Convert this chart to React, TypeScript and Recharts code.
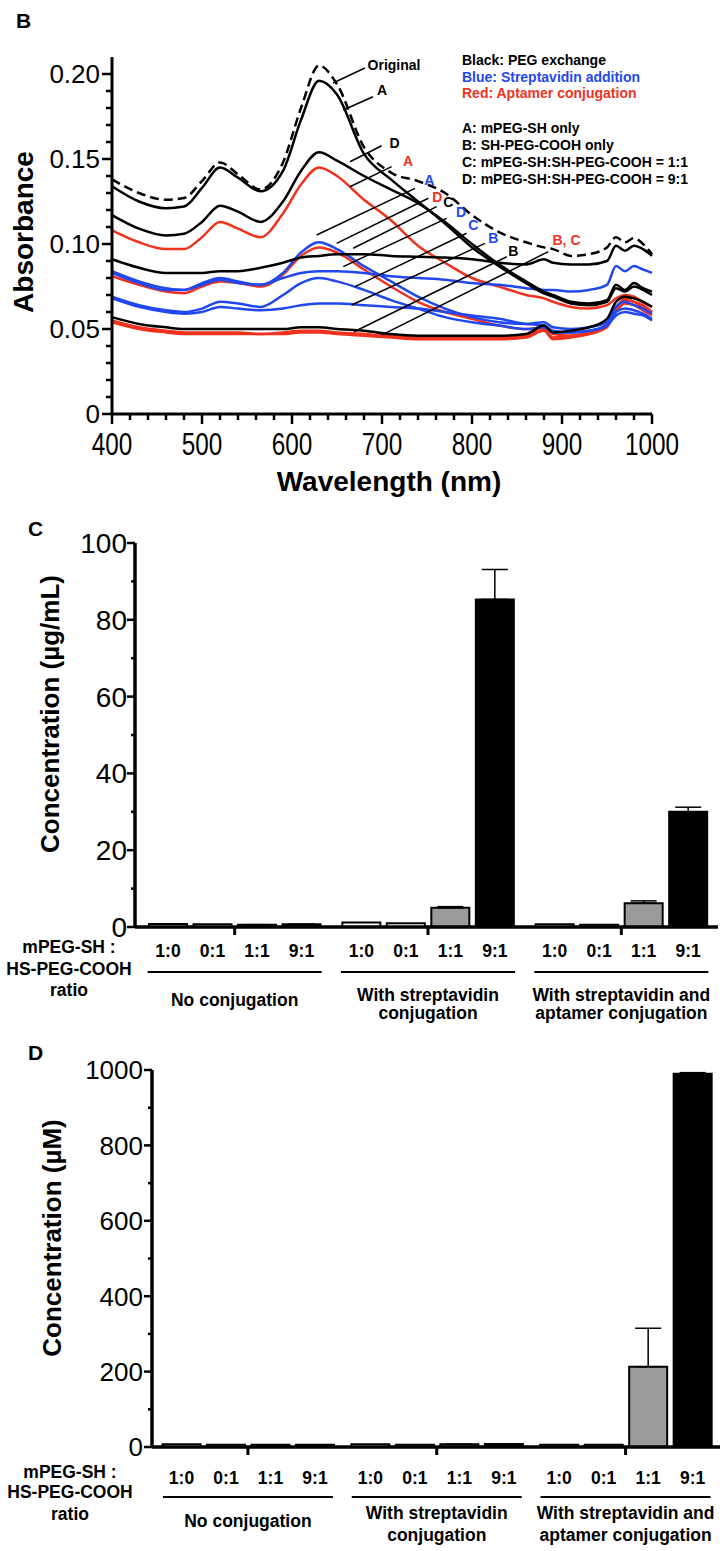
import React from 'react';
import {
  LineChart, Line, XAxis, YAxis, ReferenceLine, ReferenceDot,
  BarChart, Bar, ErrorBar, LabelList,
} from 'recharts';

const FONT = '"Liberation Sans", Arial, Helvetica, sans-serif';
const BLACK = '#000000';
const BLUE = '#2148ee';
const RED = '#f0321f';

// ---------- Panel B: absorbance spectra ----------
const wavelengths = [400, 430, 460, 480, 500, 520, 540, 565, 590, 610, 630, 650, 680, 710, 740, 770, 800, 830, 860, 880, 890, 910, 930, 950, 960, 970, 980, 990, 1000];

const absOriginal = [0.138, 0.130, 0.126, 0.127, 0.137, 0.148, 0.141, 0.132, 0.148, 0.180, 0.205, 0.194, 0.157, 0.142, 0.137, 0.130, 0.117, 0.107, 0.101, 0.098, 0.097, 0.093, 0.094, 0.098, 0.104, 0.101, 0.1035, 0.100, 0.094];
const absBlackA = [0.134, 0.125, 0.121, 0.122, 0.133, 0.145, 0.139, 0.131, 0.143, 0.173, 0.196, 0.188, 0.153, 0.138, 0.125, 0.112, 0.098, 0.087, 0.077, 0.071, 0.069, 0.065, 0.064, 0.066, 0.074, 0.072, 0.075, 0.073, 0.070];
const absBlackD = [0.117, 0.109, 0.105, 0.106, 0.113, 0.1225, 0.119, 0.113, 0.125, 0.143, 0.154, 0.149, 0.140, 0.132, 0.124, 0.113, 0.100, 0.088, 0.078, 0.072, 0.070, 0.066, 0.065, 0.067, 0.076, 0.073, 0.077, 0.074, 0.072];
const absBlackC = [0.091, 0.086, 0.083, 0.083, 0.083, 0.084, 0.084, 0.086, 0.089, 0.092, 0.093, 0.094, 0.094, 0.093, 0.0925, 0.092, 0.091, 0.089, 0.088, 0.091, 0.089, 0.088, 0.088, 0.090, 0.099, 0.096, 0.099, 0.097, 0.093];
const absBlackB = [0.057, 0.053, 0.051, 0.050, 0.050, 0.050, 0.050, 0.050, 0.050, 0.051, 0.051, 0.050, 0.049, 0.047, 0.046, 0.046, 0.046, 0.046, 0.047, 0.052, 0.048, 0.049, 0.051, 0.056, 0.066, 0.069, 0.068, 0.066, 0.063];
const absBlueA = [0.083, 0.077, 0.073, 0.073, 0.077, 0.080, 0.078, 0.076, 0.083, 0.095, 0.101, 0.097, 0.087, 0.078, 0.069, 0.062, 0.057, 0.054, 0.053, 0.054, 0.051, 0.050, 0.051, 0.054, 0.063, 0.066, 0.064, 0.062, 0.059];
const absBlueD = [0.084, 0.078, 0.074, 0.073, 0.076, 0.079, 0.077, 0.076, 0.080, 0.083, 0.084, 0.084, 0.083, 0.081, 0.080, 0.079, 0.077, 0.076, 0.074, 0.073, 0.073, 0.072, 0.073, 0.076, 0.087, 0.084, 0.087, 0.085, 0.083];
const absBlueC = [0.069, 0.064, 0.061, 0.060, 0.062, 0.066, 0.065, 0.063, 0.070, 0.077, 0.080, 0.078, 0.073, 0.067, 0.062, 0.057, 0.054, 0.052, 0.050, 0.051, 0.048, 0.048, 0.049, 0.052, 0.060, 0.062, 0.061, 0.059, 0.056];
const absBlueB = [0.068, 0.063, 0.060, 0.059, 0.060, 0.063, 0.062, 0.061, 0.062, 0.064, 0.065, 0.065, 0.064, 0.063, 0.062, 0.060, 0.058, 0.056, 0.053, 0.052, 0.049, 0.048, 0.049, 0.052, 0.058, 0.060, 0.059, 0.058, 0.055];
const absRedA = [0.108, 0.101, 0.097, 0.097, 0.104, 0.113, 0.109, 0.104, 0.118, 0.135, 0.145, 0.140, 0.126, 0.114, 0.099, 0.089, 0.080, 0.075, 0.070, 0.068, 0.066, 0.063, 0.062, 0.064, 0.068, 0.070, 0.069, 0.066, 0.063];
const absRedD = [0.081, 0.076, 0.072, 0.071, 0.075, 0.078, 0.077, 0.075, 0.082, 0.093, 0.098, 0.095, 0.085, 0.075, 0.066, 0.060, 0.056, 0.052, 0.050, 0.051, 0.047, 0.046, 0.047, 0.051, 0.062, 0.068, 0.066, 0.064, 0.060];
const absRedB = [0.055, 0.051, 0.049, 0.048, 0.048, 0.048, 0.048, 0.047, 0.048, 0.049, 0.049, 0.048, 0.047, 0.046, 0.045, 0.045, 0.045, 0.045, 0.046, 0.050, 0.045, 0.046, 0.048, 0.053, 0.062, 0.067, 0.066, 0.063, 0.060];
const absRedC = [0.054, 0.050, 0.048, 0.047, 0.047, 0.047, 0.047, 0.047, 0.047, 0.048, 0.048, 0.047, 0.046, 0.045, 0.044, 0.044, 0.044, 0.044, 0.045, 0.049, 0.044, 0.045, 0.047, 0.052, 0.060, 0.065, 0.064, 0.061, 0.058];

const spectra = [
  { key: 'redC', color: RED, values: absRedC },
  { key: 'redB', color: RED, values: absRedB },
  { key: 'redD', color: RED, values: absRedD },
  { key: 'redA', color: RED, values: absRedA },
  { key: 'blueB', color: BLUE, values: absBlueB },
  { key: 'blueC', color: BLUE, values: absBlueC },
  { key: 'blueD', color: BLUE, values: absBlueD },
  { key: 'blueA', color: BLUE, values: absBlueA },
  { key: 'blackB', color: BLACK, values: absBlackB },
  { key: 'blackC', color: BLACK, values: absBlackC },
  { key: 'blackD', color: BLACK, values: absBlackD },
  { key: 'blackA', color: BLACK, values: absBlackA },
  { key: 'original', color: BLACK, values: absOriginal, dashed: true },
];

const spectraData = wavelengths.map((w, i) => {
  const row: Record<string, number> = { w };
  spectra.forEach((s) => { row[s.key] = s.values[i]; });
  return row;
});

const waveTicks: number[] = [];
for (let w = 400; w <= 1000; w += 20) waveTicks.push(w);
const absTicks: number[] = [];
for (let i = 0; i <= 20; i++) absTicks.push(i / 100);

// curve labels: [text, wavelength, absorbance, colour]
const curveLabels: [string, number, number, string][] = [
  ['Original', 684, 0.2055, BLACK],
  ['A', 700, 0.1905, BLACK],
  ['D', 714, 0.1596, BLACK],
  ['A', 729, 0.1488, RED],
  ['A', 752.6, 0.1376, BLUE],
  ['D', 761.5, 0.1278, RED],
  ['C', 773.7, 0.1249, BLACK],
  ['D', 787.8, 0.119, BLUE],
  ['C', 801.5, 0.1112, BLUE],
  ['B', 823.7, 0.1033, BLUE],
  ['B', 846, 0.0961, BLACK],
  ['B, C', 905, 0.1024, RED],
];

// leader lines: [w1, a1, w2, a2]
const leaders: [number, number, number, number][] = [
  [645.6, 0.1947, 681, 0.2035],
  [657, 0.1788, 690, 0.1866],
  [664.4, 0.1484, 699.6, 0.1578],
  [664.4, 0.1337, 710.7, 0.1455],
  [627.4, 0.1053, 736.7, 0.1327],
  [649.6, 0.1004, 751.5, 0.1269],
  [668, 0.0975, 760.7, 0.122],
  [657, 0.0867, 771.8, 0.1151],
  [670, 0.0749, 794, 0.1063],
  [666.3, 0.0641, 814.4, 0.1004],
  [669, 0.0484, 838.6, 0.0925],
  [700, 0.0465, 884.8, 0.0955],
];

const legendColours = [
  ['Black: PEG exchange', BLACK],
  ['Blue: Streptavidin addition', BLUE],
  ['Red: Aptamer conjugation', RED],
];
const legendSamples = [
  'A: mPEG-SH only',
  'B: SH-PEG-COOH only',
  'C: mPEG-SH:SH-PEG-COOH = 1:1',
  'D: mPEG-SH:SH-PEG-COOH = 9:1',
];

// ---------- Panels C and D: bar charts ----------
const groupNames = ['No conjugation', 'With streptavidin\nconjugation', 'With streptavidin and\naptamer conjugation'];
const ratioLabels = ['1:0', '0:1', '1:1', '9:1'];
const ratioKeys = ['r10', 'r01', 'r11', 'r91'];
const ratioFills = ['#ffffff', '#ffffff', '#9a9a9a', '#000000'];

const cVal10 = [0.8, 1.2, 0.7];
const cVal01 = [0.7, 1.0, 0.6];
const cVal11 = [0.6, 5.0, 6.2];
const cVal91 = [0.7, 85.3, 30.0];
const cErr11 = [0, 0.3, 0.6];
const cErr91 = [0, 7.8, 1.2];
const cTicks = [0, 10, 20, 30, 40, 50, 60, 70, 80, 90, 100];

const dVal10 = [7, 7, 6];
const dVal01 = [6, 6, 6];
const dVal11 = [6, 7, 213];
const dVal91 = [6, 8, 990];
const dErr11 = [0, 0, 102];
const dErr91 = [0, 0, 3];
const dTicks = [0, 100, 200, 300, 400, 500, 600, 700, 800, 900, 1000];

const makeRows = (v10: number[], v01: number[], v11: number[], v91: number[], e11: number[], e91: number[]) =>
  groupNames.map((g, i) => ({
    group: g, r10: v10[i], r01: v01[i], r11: v11[i], r91: v91[i],
    e11: [0, e11[i]], e91: [0, e91[i]],
  }));

const cRows = makeRows(cVal10, cVal01, cVal11, cVal91, cErr11, cErr91);
const dRows = makeRows(dVal10, dVal01, dVal11, dVal91, dErr11, dErr91);

// ---------- ticks ----------
const WaveTick = ({ x, y, payload }: any) => {
  const major = payload.value % 100 === 0;
  return (
    <g>
      <line x1={x} x2={x} y1={y} y2={y + (major ? 10 : 6)} stroke="#000" strokeWidth={2.5} />
      {major && (
        <text transform={`translate(${x},${y + 29}) scale(0.76,1)`} textAnchor="middle" dy="0.36em"
          fontSize={32} fontFamily={FONT} fill="#000">{payload.value}</text>
      )}
    </g>
  );
};

const AbsTick = ({ x, y, payload }: any) => {
  const h = Math.round(payload.value * 100);
  const major = h % 5 === 0;
  return (
    <g>
      <line x1={x - (major ? 10 : 6)} x2={x} y1={y} y2={y} stroke="#000" strokeWidth={2.5} />
      {major && (
        <text x={x - 12} y={y} dy="0.36em" textAnchor="end" fontSize={26} fontFamily={FONT} fill="#000">
          {h === 0 ? '0' : payload.value.toFixed(2)}
        </text>
      )}
    </g>
  );
};

const ConcTick = ({ x, y, payload, majorStep, fontSize, gap }: any) => {
  const major = payload.value % majorStep === 0;
  return (
    <g>
      <line x1={x - (major ? 8 : 4)} x2={x} y1={y} y2={y} stroke="#000" strokeWidth={2.5} />
      {major && (
        <text x={x - gap} y={y} dy="0.36em" textAnchor="end" fontSize={fontSize} fontFamily={FONT} fill="#000">
          {payload.value}
        </text>
      )}
    </g>
  );
};

const GroupTick = ({ x, y, payload, under, half, one, two }: any) => {
  const lines = String(payload.value).split('\n');
  const ty = lines.length === 1 ? [one] : two;
  return (
    <g>
      <line x1={x} x2={x} y1={y} y2={y + 8} stroke="#000" strokeWidth={3} />
      <line x1={x - half} x2={x + half} y1={y + under} y2={y + under} stroke="#000" strokeWidth={2} />
      {lines.map((t, i) => (
        <text key={i} x={x} y={y + ty[i]} dy="0.36em" textAnchor="middle" fontSize={17.5}
          fontWeight="bold" fontFamily={FONT} fill="#000">{t}</text>
      ))}
    </g>
  );
};

const RatioLabel = (props: any) => {
  const vb = props.viewBox && props.viewBox.width !== undefined ? props.viewBox : props;
  const cx = Number(vb.x) + Number(vb.width) / 2;
  const base = Number(vb.y) + Number(vb.height);
  return (
    <text x={cx} y={base + props.dyLabel} dy="0.36em" textAnchor="middle" fontSize={17.5}
      fontWeight="bold" fontFamily={FONT} fill="#000">{props.text}</text>
  );
};

type PanelCfg = {
  rows: any[]; height: number; margin: any; padLeft: number; yMax: number; ticks: number[];
  majorStep: number; tickFont: number; tickGap: number; ratioDy: number;
  under: number; half: number; one: number; two: number[]; cap: number;
};

const ConcPanel = (c: PanelCfg) => (
  <BarChart width={727} height={c.height} data={c.rows} margin={c.margin} barSize={38} barGap={6.5}
    style={{ fontFamily: FONT }}>
    <XAxis dataKey="group" height={100} interval={0} tickSize={0} tickMargin={0} tickLine={false}
      padding={{ left: c.padLeft, right: 0 }} axisLine={{ stroke: '#000', strokeWidth: 3.5 }}
      tick={(p: any) => <GroupTick {...p} under={c.under} half={c.half} one={c.one} two={c.two} />} />
    <YAxis type="number" domain={[0, c.yMax]} ticks={c.ticks} interval={0} width={120} tickSize={0}
      tickMargin={0} tickLine={false} axisLine={{ stroke: '#000', strokeWidth: 3.5 }}
      tick={(p: any) => <ConcTick {...p} majorStep={c.majorStep} fontSize={c.tickFont} gap={c.tickGap} />} />
    {ratioKeys.map((k, i) => (
      <Bar key={k} dataKey={k} fill={ratioFills[i]} stroke="#000" strokeWidth={2} isAnimationActive={false}>
        {i >= 2 && (
          <ErrorBar dataKey={i === 2 ? 'e11' : 'e91'} direction="y" width={c.cap} stroke="#000" strokeWidth={1.5} />
        )}
        <LabelList dataKey={k} content={(p: any) => <RatioLabel {...p} text={ratioLabels[i]} dyLabel={c.ratioDy} />} />
      </Bar>
    ))}
  </BarChart>
);

// ---------- html text helper ----------
const T = ({ x, y, children, size, bold = true, color = '#000', anchor = 'center', rotate = false }: any) => (
  <div style={{
    position: 'absolute', left: x, top: y, whiteSpace: 'pre', lineHeight: 1, fontFamily: FONT,
    fontSize: size, fontWeight: bold ? 'bold' : 'normal', color,
    transform: `translate(${anchor === 'left' ? '0' : '-50%'},-50%)${rotate ? ' rotate(-90deg)' : ''}`,
  }}>{children}</div>
);

export default function App() {
  return (
    <div style={{ position: 'absolute', left: 0, top: 0, width: 727, height: 1551, background: '#fff', overflow: 'hidden' }}>
      {/* Panel B */}
      <div style={{ position: 'absolute', left: 0, top: 0 }}>
        <LineChart width={727} height={500} data={spectraData} margin={{ top: 57, right: 75, bottom: 26, left: 12 }}
          style={{ fontFamily: FONT }}>
          <XAxis dataKey="w" type="number" domain={[400, 1000]} ticks={waveTicks} interval={0} height={60}
            tickSize={0} tickMargin={0} tickLine={false} axisLine={{ stroke: '#000', strokeWidth: 3 }} tick={<WaveTick />} />
          <YAxis type="number" domain={[0, 0.21]} ticks={absTicks} interval={0} width={100}
            tickSize={0} tickMargin={0} tickLine={false} axisLine={{ stroke: '#000', strokeWidth: 3 }} tick={<AbsTick />} />
          {spectra.map((s) => (
            <Line key={s.key} dataKey={s.key} type="monotone" stroke={s.color} strokeWidth={2.5}
              strokeDasharray={s.dashed ? '9 5' : undefined} dot={false} isAnimationActive={false} />
          ))}
          {leaders.map((l, i) => (
            <ReferenceLine key={'l' + i} segment={[{ x: l[0], y: l[1] }, { x: l[2], y: l[3] }]}
              stroke="#000" strokeWidth={1.5} ifOverflow="visible" />
          ))}
          {curveLabels.map((c, i) => (
            <ReferenceDot key={'t' + i} x={c[1]} y={c[2]} r={0} ifOverflow="visible"
              shape={(p: any) => (
                <text x={p.cx} y={p.cy} dy="0.36em" textAnchor={c[0] === 'Original' ? 'start' : 'middle'}
                  fontSize={14} fontWeight="bold" fontFamily={FONT} fill={c[3]}>{c[0]}</text>
              )} />
          ))}
        </LineChart>
      </div>
      <T x={16} y={20} size={21} anchor="left">B</T>
      <T x={24} y={232} size={28} rotate>Absorbance</T>
      <T x={389} y={482} size={28}>Wavelength (nm)</T>
      {legendColours.map(([t, col], i) => (
        <T key={t} x={462} y={60 + i * 16.5} size={14} color={col} anchor="left">{t}</T>
      ))}
      {legendSamples.map((t, i) => (
        <T key={t} x={462} y={128 + i * 17} size={14} anchor="left">{t}</T>
      ))}

      {/* Panel C */}
      <div style={{ position: 'absolute', left: 0, top: 500 }}>
        <ConcPanel rows={cRows} height={540} margin={{ top: 43, right: 9, bottom: 13, left: 15 }} padLeft={3}
          yMax={100} ticks={cTicks} majorStep={20} tickFont={28} tickGap={8} ratioDy={24}
          under={45} half={87} one={73} two={[68, 86]} cap={13} />
      </div>
      <T x={28} y={528} size={21} anchor="left">C</T>
      <T x={50} y={714} size={26} rotate>Concentration (µg/mL)</T>
      <T x={69} y={948} size={17.5}>mPEG-SH :</T>
      <T x={69} y={970} size={17.5}>HS-PEG-COOH</T>
      <T x={69} y={991} size={17.5}>ratio</T>

      {/* Panel D */}
      <div style={{ position: 'absolute', left: 0, top: 1040 }}>
        <ConcPanel rows={dRows} height={511} margin={{ top: 30, right: 7, bottom: 4, left: 32 }} padLeft={1.5}
          yMax={1000} ticks={dTicks} majorStep={200} tickFont={26} tickGap={9} ratioDy={31}
          under={50} half={85} one={74} two={[65.5, 88]} cap={13} />
      </div>
      <T x={28} y={1052} size={21} anchor="left">D</T>
      <T x={52} y={1238} size={26} rotate>Concentration (µM)</T>
      <T x={70} y={1473} size={17.5}>mPEG-SH :</T>
      <T x={70} y={1493} size={17.5}>HS-PEG-COOH</T>
      <T x={70} y={1515} size={17.5}>ratio</T>
    </div>
  );
}
